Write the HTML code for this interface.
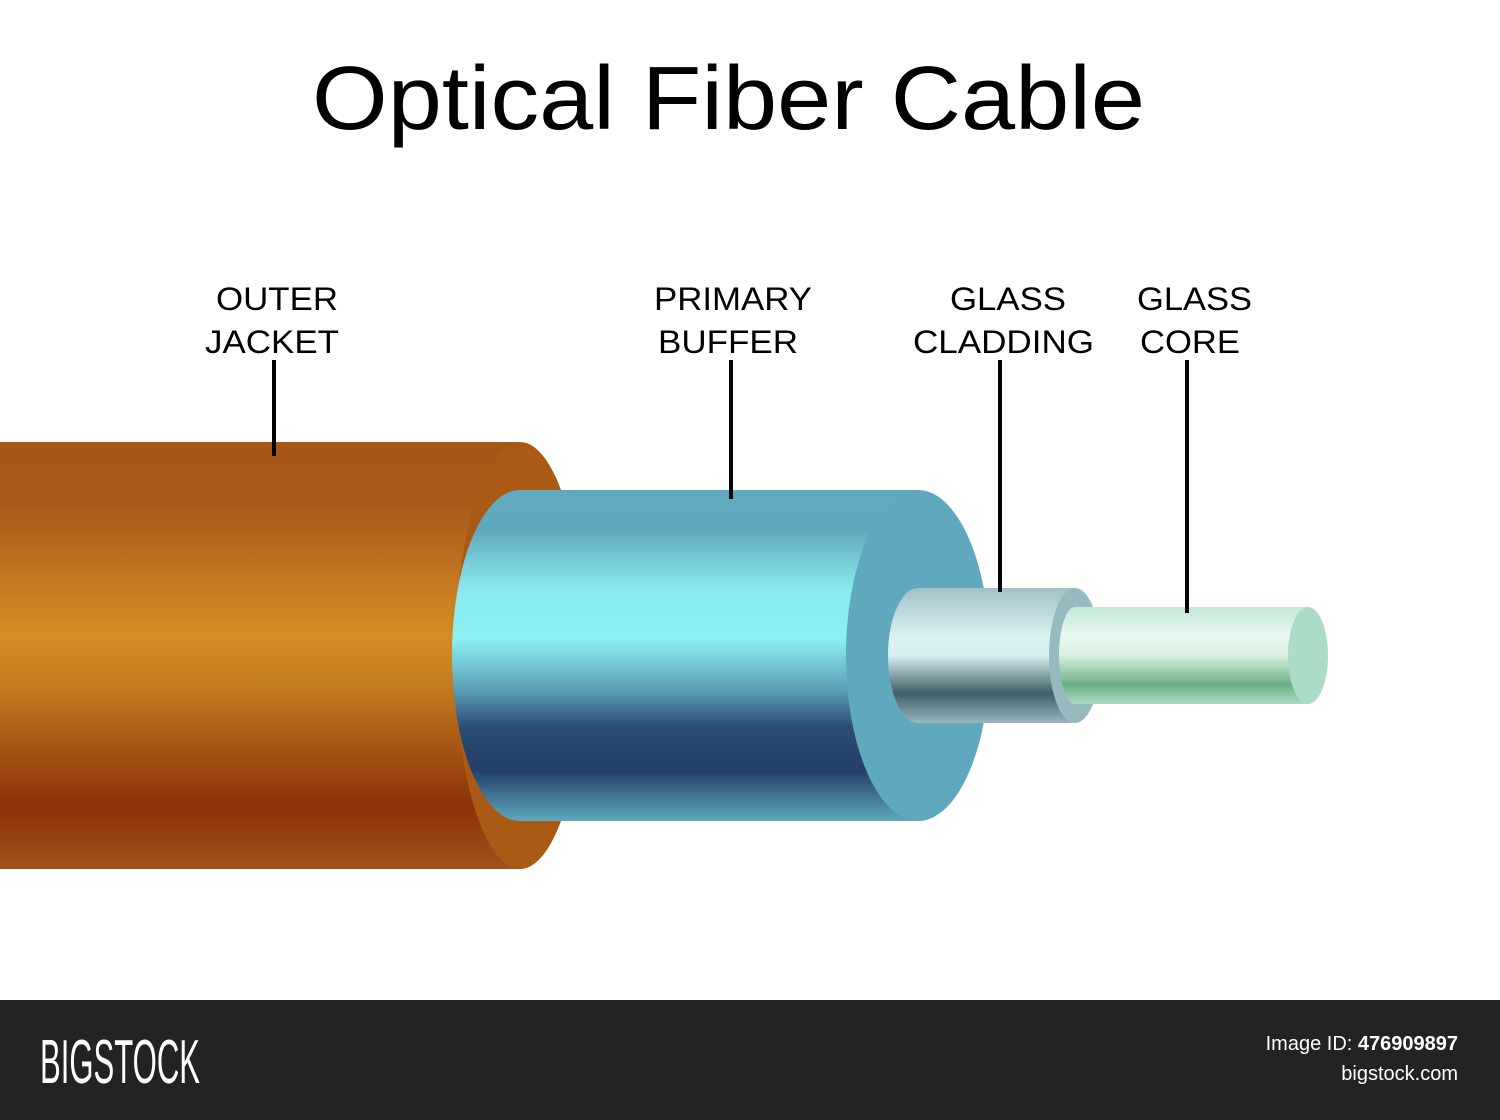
<!DOCTYPE html>
<html><head><meta charset="utf-8"><style>
html,body{margin:0;padding:0;background:#fff;}
svg{display:block;}
</style></head><body>
<svg width="1500" height="1120" viewBox="0 0 1500 1120" xmlns="http://www.w3.org/2000/svg" font-family="Liberation Sans, sans-serif">
<defs>
<linearGradient id="jk" x1="0" y1="0" x2="0" y2="1">
<stop offset="0" stop-color="#a65616"/><stop offset="0.15" stop-color="#aa5a18"/>
<stop offset="0.45" stop-color="#d48d25"/><stop offset="0.58" stop-color="#c27a1f"/>
<stop offset="0.85" stop-color="#8a3209"/><stop offset="1" stop-color="#a3511a"/>
</linearGradient>
<linearGradient id="bf" x1="0" y1="0" x2="0" y2="1">
<stop offset="0" stop-color="#60aabf"/><stop offset="0.12" stop-color="#60a8bc"/>
<stop offset="0.3" stop-color="#8aeaef"/><stop offset="0.45" stop-color="#8cf0f2"/>
<stop offset="0.6" stop-color="#5aa0b8"/><stop offset="0.72" stop-color="#2a4b74"/>
<stop offset="0.85" stop-color="#234069"/><stop offset="1" stop-color="#5fa9bd"/>
</linearGradient>
<linearGradient id="cl" x1="0" y1="0" x2="0" y2="1">
<stop offset="0" stop-color="#a3c0c4"/><stop offset="0.35" stop-color="#daf0f2"/>
<stop offset="0.5" stop-color="#d8eef0"/><stop offset="0.78" stop-color="#3f5e68"/>
<stop offset="1" stop-color="#9ab7bd"/>
</linearGradient>
<linearGradient id="co" x1="0" y1="0" x2="0" y2="1">
<stop offset="0" stop-color="#c6e8d8"/><stop offset="0.3" stop-color="#e8f8f0"/>
<stop offset="0.5" stop-color="#d8f0e0"/><stop offset="0.8" stop-color="#6cb083"/>
<stop offset="1" stop-color="#a8dcc4"/>
</linearGradient>
</defs>
<rect width="1500" height="1120" fill="#fff"/>
<text x="312" y="129" font-size="90" textLength="833" lengthAdjust="spacingAndGlyphs" fill="#000">Optical Fiber Cable</text>

<!-- jacket -->
<rect x="0" y="442" width="520" height="427" fill="url(#jk)"/>
<ellipse cx="520" cy="655.5" rx="65" ry="213.5" fill="#ab5a16"/>
<!-- buffer -->
<rect x="520" y="490" width="398" height="331" fill="url(#bf)"/>
<path d="M520 490 A68 165.5 0 0 0 520 821 Z" fill="url(#bf)"/>
<ellipse cx="918" cy="655.5" rx="72" ry="165.5" fill="#5fa8bd"/>
<!-- cladding -->
<rect x="918" y="588" width="157" height="135" fill="url(#cl)"/>
<path d="M918 588 A30 67.5 0 0 0 918 723 Z" fill="url(#cl)"/>
<ellipse cx="1075" cy="655.5" rx="26" ry="67.5" fill="#97b9bf"/>
<!-- core -->
<rect x="1075" y="607" width="233" height="97" fill="url(#co)"/>
<path d="M1075 607 A16 48.5 0 0 0 1075 704 Z" fill="url(#co)"/>
<ellipse cx="1308" cy="655.5" rx="20" ry="48.5" fill="#abdcc8"/>

<!-- leaders -->
<g stroke="#000" stroke-width="4">
<line x1="274" y1="360" x2="274" y2="456"/>
<line x1="731" y1="360" x2="731" y2="499"/>
<line x1="1000" y1="360" x2="1000" y2="592"/>
<line x1="1187" y1="360" x2="1187" y2="613"/>
</g>
<g font-size="32" fill="#000">
<text x="216" y="310" textLength="122" lengthAdjust="spacingAndGlyphs">OUTER</text>
<text x="205" y="353" textLength="134" lengthAdjust="spacingAndGlyphs">JACKET</text>
<text x="654" y="310" textLength="158" lengthAdjust="spacingAndGlyphs">PRIMARY</text>
<text x="658" y="353" textLength="140" lengthAdjust="spacingAndGlyphs">BUFFER</text>
<text x="950" y="310" textLength="116" lengthAdjust="spacingAndGlyphs">GLASS</text>
<text x="913" y="353" textLength="181" lengthAdjust="spacingAndGlyphs">CLADDING</text>
<text x="1137" y="310" textLength="115" lengthAdjust="spacingAndGlyphs">GLASS</text>
<text x="1140" y="353" textLength="100" lengthAdjust="spacingAndGlyphs">CORE</text>
</g>

<!-- footer -->
<rect x="0" y="1000" width="1500" height="120" fill="#232323"/>
<text x="40" y="1083" font-size="62" textLength="160" lengthAdjust="spacingAndGlyphs" fill="#fff">BIGSTOCK</text>
<text x="1458" y="1050" font-size="20" text-anchor="end" fill="#fff">Image ID: <tspan font-weight="bold">476909897</tspan></text>
<text x="1458" y="1080" font-size="20" text-anchor="end" fill="#fff">bigstock.com</text>
</svg>
</body></html>
